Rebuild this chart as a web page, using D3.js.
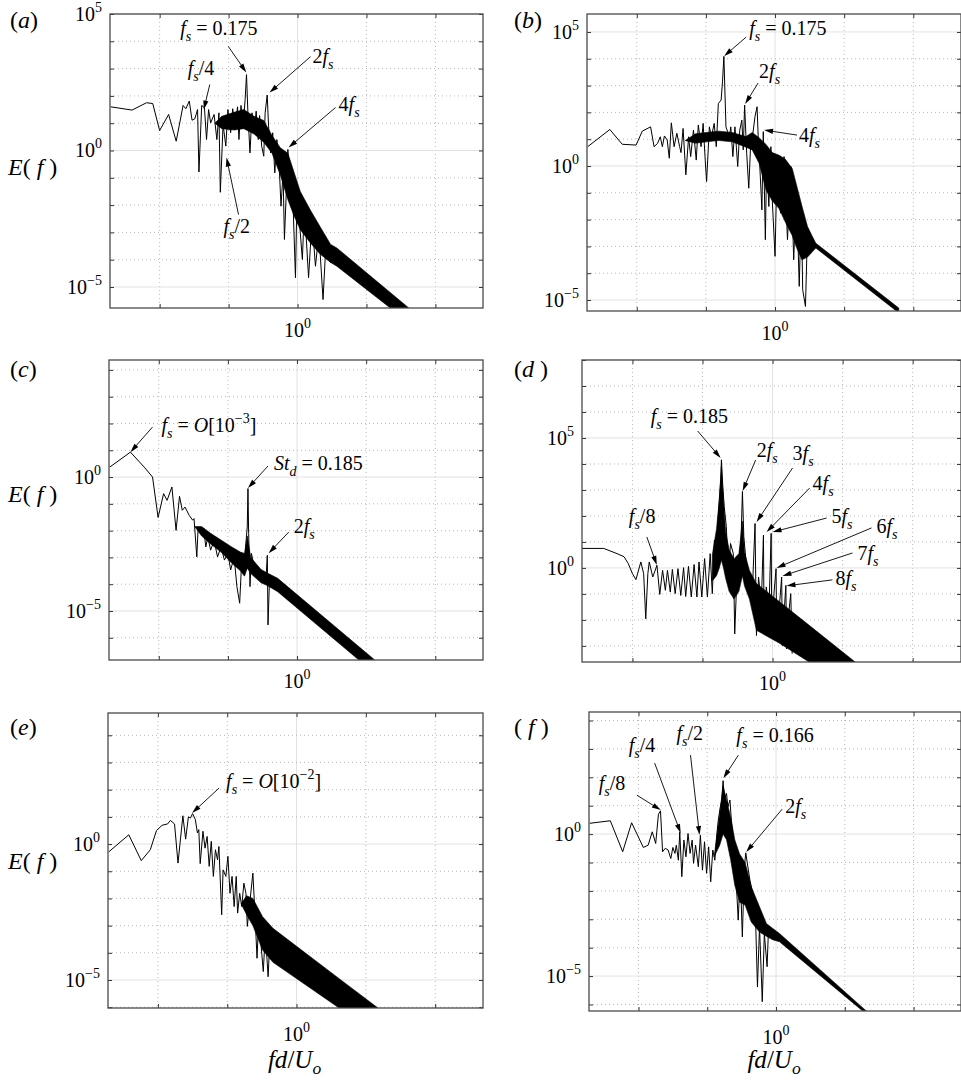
<!DOCTYPE html>
<html lang="en">
<head>
<meta charset="UTF-8">
<title>Energy spectra E(f)</title>
<script src="https://d3js.org/d3.v7.min.js"></script>
<style>
  body { margin: 0; background: #fff; }
  svg { display: block; }
  text { white-space: pre; font-family: "Liberation Serif", "Times New Roman", "DejaVu Serif", serif; fill: #000; }
  .grid-major { stroke: #e2e2e2; stroke-width: 1; }
  .grid-minor { stroke: #b8b8b8; stroke-width: 1; stroke-dasharray: 1,3; }
  .frame { fill: none; stroke: #4a4a4a; stroke-width: 1.3; }
  .trace { fill: none; stroke: #000; stroke-width: 1; stroke-linejoin: round; }
  .band { fill: #000; stroke: #000; stroke-width: 0.6; }
  .arrow { stroke: #000; stroke-width: 0.9; }
  .ticks line { stroke: #333; }
  .ticks path { display: none; }
</style>
</head>
<body>
<script>
// all values as [log10(fd/Uo), log10 E(f)]
const xExp = [-2.72, 2.69];

const specA = [[-2.71,1.60],[-2.40,1.48],[-2.19,1.75],[-2.10,1.72],[-2.00,0.73],[-1.87,1.32],[-1.76,0.34],[-1.66,1.65],[-1.62,1.53],[-1.57,1.81],[-1.53,1.11],[-1.49,1.16],[-1.45,1.50],[-1.43,-0.79],[-1.39,1.65],[-1.35,1.56],[-1.32,0.40],[-1.29,1.50],[-1.26,1.01],[-1.21,1.32],[-1.17,0.40],[-1.14,1.38],[-1.12,-1.53],[-1.08,0.95],[-1.04,0.16],[-1.01,1.50],[-0.97,0.65],[-0.94,1.53],[-0.91,0.77],[-0.87,1.60],[-0.85,0.40],[-0.82,1.65],[-0.79,0.89],[-0.76,1.87],[-0.74,2.78],[-0.72,1.38],[-0.69,-0.09],[-0.66,1.38],[-0.63,0.65],[-0.60,1.44],[-0.57,0.40],[-0.55,1.28],[-0.52,0.16],[-0.49,-0.21],[-0.47,1.38],[-0.44,2.03],[-0.42,0.89],[-0.39,-0.09],[-0.36,0.65],[-0.33,-0.82],[-0.30,0.40],[-0.27,-0.33],[-0.24,-2.04],[-0.21,-0.82],[-0.19,-3.26],[-0.16,-1.31],[-0.14,0.04],[-0.11,-1.79],[-0.08,-0.82],[-0.03,-4.66],[-0.005,-1.31],[0.04,-3.02],[0.07,-3.99],[0.10,-2.04],[0.16,-4.66],[0.21,-2.53],[0.26,-4.24],[0.31,-3.02],[0.37,-5.46],[0.41,-3.50],[0.48,-4.11],[0.55,-3.75]];
// dense part of the spectrum: [log10 f, lower, upper]
const bandA = [[-1.20,1.00,1.00],[-1.10,0.80,1.25],[-0.92,0.75,1.40],[-0.78,0.80,1.50],[-0.63,0.60,1.25],[-0.49,0.30,1.10],[-0.37,-0.10,0.55],[-0.25,-0.90,0.10],[-0.14,-1.80,-0.10],[-0.05,-2.40,-0.80],[0.04,-2.90,-1.50],[0.19,-3.40,-2.20],[0.33,-3.80,-2.80],[0.48,-4.10,-3.44],[0.57,-4.24,-3.57],[1.69,-6.45,-5.93]];

const specB = [[-2.71,0.72],[-2.39,1.36],[-2.21,0.81],[-2.01,0.78],[-1.92,1.30],[-1.80,1.46],[-1.75,0.72],[-1.70,0.84],[-1.66,1.09],[-1.63,0.72],[-1.60,1.12],[-1.56,0.97],[-1.53,0.29],[-1.50,1.61],[-1.46,0.72],[-1.42,1.22],[-1.38,0.72],[-1.36,0.50],[-1.33,1.40],[-1.29,-0.33],[-1.25,1.09],[-1.22,0.35],[-1.18,1.34],[-1.14,0.22],[-1.11,1.53],[-1.07,0.72],[-1.04,1.59],[-1.01,0.22],[-0.99,-0.58],[-0.95,1.46],[-0.92,1.09],[-0.88,1.59],[-0.85,0.72],[-0.82,2.33],[-0.78,2.46],[-0.76,3.14],[-0.74,4.09],[-0.71,1.46],[-0.66,1.09],[-0.64,1.46],[-0.61,0.35],[-0.58,1.46],[-0.54,-0.02],[-0.51,1.34],[-0.48,1.71],[-0.46,0.60],[-0.44,2.27],[-0.41,0.47],[-0.38,-0.83],[-0.35,0.97],[-0.32,1.22],[-0.29,1.84],[-0.26,2.21],[-0.24,0.84],[-0.22,-0.02],[-0.19,-1.64],[-0.17,1.28],[-0.14,-2.75],[-0.12,0.35],[-0.09,-1.51],[-0.06,0.72],[-0.04,-1.27],[0.00,-3.37],[0.03,0.22],[0.08,-1.76],[0.13,0.35],[0.18,-2.75],[0.23,-0.02],[0.27,-3.50],[0.31,-0.77],[0.35,-4.49],[0.38,-1.51],[0.40,-4.62],[0.44,-5.24],[0.47,-2.38],[0.51,-3.25],[0.59,-2.98]];
const bandB = [[-1.30,0.95,0.95],[-1.15,0.85,1.20],[-1.00,0.90,1.25],[-0.81,0.95,1.30],[-0.62,0.90,1.25],[-0.42,0.70,1.10],[-0.33,0.60,1.25],[-0.23,0.10,1.05],[-0.13,-0.90,0.80],[-0.04,-1.30,0.50],[0.06,-1.60,0.40],[0.15,-2.10,0.25],[0.25,-2.60,-0.10],[0.32,-3.10,-0.80],[0.39,-3.50,-1.50],[0.47,-3.40,-2.26],[0.54,-3.20,-2.63],[0.59,-3.06,-2.88],[1.79,-5.48,-5.30]];

const specC = [[-2.71,0.37],[-2.41,0.93],[-2.21,0.37],[-2.09,0.00],[-2.01,-1.51],[-1.93,-0.62],[-1.88,-0.87],[-1.81,-0.37],[-1.75,-1.99],[-1.70,-0.72],[-1.66,-1.24],[-1.62,-1.12],[-1.56,-1.43],[-1.51,-1.61],[-1.49,-1.55],[-1.45,-2.98],[-1.43,-1.86],[-1.39,-2.11],[-1.35,-1.92],[-1.32,-2.61],[-1.29,-2.23],[-1.25,-2.73],[-1.20,-2.36],[-1.15,-2.98],[-1.10,-2.61],[-1.05,-3.10],[-1.00,-2.85],[-0.96,-3.47],[-0.91,-2.98],[-0.87,-4.09],[-0.83,-4.71],[-0.80,-3.10],[-0.76,-3.35],[-0.74,-2.48],[-0.72,-1.86],[-0.71,-0.43],[-0.70,-2.11],[-0.68,-4.09],[-0.66,-2.85],[-0.62,-3.35],[-0.57,-3.60],[-0.50,-3.72],[-0.45,-3.85],[-0.43,-2.92],[-0.42,-5.52],[-0.40,-3.97]];
const bandC = [[-1.48,-1.85,-1.85],[-1.38,-2.20,-1.85],[-1.25,-2.50,-2.10],[-1.10,-2.80,-2.35],[-0.95,-3.20,-2.60],[-0.82,-3.50,-2.80],[-0.76,-3.70,-2.85],[-0.72,-3.40,-2.20],[-0.67,-3.60,-3.00],[-0.52,-3.95,-3.45],[-0.43,-4.05,-3.58],[-0.28,-4.28,-3.78],[1.12,-7.32,-6.82]];

const specD = [[-2.72,0.75],[-2.41,0.75],[-2.22,0.55],[-2.12,0.43],[-2.06,0.17],[-2.00,-0.22],[-1.95,-0.45],[-1.90,0.04],[-1.88,0.23],[-1.84,-0.22],[-1.81,-1.96],[-1.78,-0.22],[-1.76,0.23],[-1.71,-0.35],[-1.65,0.10],[-1.61,-1.02],[-1.57,-0.09],[-1.53,-0.86],[-1.50,-0.09],[-1.46,-0.93],[-1.43,-0.06],[-1.39,-0.99],[-1.35,-0.03],[-1.31,-1.06],[-1.27,0.01],[-1.24,-1.10],[-1.20,0.06],[-1.16,-1.12],[-1.12,0.13],[-1.08,-1.12],[-1.05,0.23],[-1.01,-1.12],[-0.97,0.36],[-0.93,-1.12],[-0.89,0.55],[-0.86,-0.99],[-0.83,1.07],[-0.80,-0.22],[-0.78,1.84],[-0.76,2.62],[-0.74,3.39],[-0.73,4.16],[-0.71,3.13],[-0.69,2.36],[-0.66,1.59],[-0.63,-0.22],[-0.60,0.94],[-0.56,0.55],[-0.54,-2.54],[-0.50,0.30],[-0.47,0.55],[-0.45,1.07],[-0.43,2.94],[-0.41,1.20],[-0.38,0.30],[-0.34,-0.22],[-0.30,-1.12],[-0.28,-0.35],[-0.25,1.71],[-0.23,-2.60],[-0.20,-0.35],[-0.16,-1.38],[-0.13,1.26],[-0.12,-2.54],[-0.09,-0.73],[-0.05,-1.51],[-0.02,1.33],[-0.01,-2.54],[0.02,-0.99],[0.05,-0.03],[0.06,-2.80],[0.10,-1.38],[0.13,-0.35],[0.14,-2.99],[0.17,-1.51],[0.19,-0.67],[0.20,-3.12],[0.23,-1.77],[0.26,-0.99],[0.28,-3.30]];
const bandD = [[-0.86,-0.50,0.50],[-0.80,-0.30,1.50],[-0.76,0.00,2.60],[-0.73,0.30,3.90],[-0.70,0.00,2.60],[-0.67,-0.40,1.40],[-0.62,-0.90,0.70],[-0.55,-1.20,0.35],[-0.48,-0.90,0.55],[-0.43,-0.30,1.80],[-0.40,-0.70,0.60],[-0.33,-1.20,-0.10],[-0.23,-2.40,-0.60],[0.10,-2.90,-1.30],[0.51,-3.60,-2.18],[1.17,-4.73,-3.60],[1.53,-5.25,-4.34]];

const specE = [[-2.71,-0.29],[-2.42,0.34],[-2.24,-0.61],[-2.11,-0.21],[-2.02,0.50],[-1.94,0.69],[-1.86,0.74],[-1.82,0.87],[-1.76,0.74],[-1.71,-0.70],[-1.64,1.04],[-1.60,0.18],[-1.56,1.00],[-1.53,0.96],[-1.50,1.12],[-1.46,0.90],[-1.43,0.41],[-1.41,0.53],[-1.39,-0.72],[-1.35,0.47],[-1.32,-0.15],[-1.29,0.28],[-1.26,-0.82],[-1.23,0.10],[-1.20,-1.19],[-1.17,-0.21],[-1.14,-0.58],[-1.12,-0.09],[-1.08,-2.60],[-1.06,-0.95],[-1.02,-1.19],[-0.99,-0.45],[-0.96,-1.81],[-0.93,-1.19],[-0.90,-2.30],[-0.87,-1.19],[-0.85,-2.54],[-0.82,-1.81],[-0.79,-2.30],[-0.76,-1.44],[-0.73,-1.81],[-0.71,-3.03],[-0.67,-2.05],[-0.63,-1.07],[-0.60,-2.54],[-0.57,-4.20],[-0.55,-3.03],[-0.51,-3.77],[-0.48,-4.69],[-0.45,-3.28],[-0.41,-4.88],[-0.38,-3.28],[-0.34,-4.26],[-0.31,-4.02]];
const bandE = [[-0.80,-2.20,-2.20],[-0.72,-2.60,-1.90],[-0.63,-3.00,-2.00],[-0.49,-3.90,-2.67],[-0.34,-4.35,-3.10],[0.62,-6.04,-4.96],[1.18,-7.03,-6.04],[1.73,-8.07,-7.09]];

const specF = [[-2.71,0.38],[-2.41,0.47],[-2.23,-0.62],[-2.10,0.40],[-1.93,-0.47],[-1.86,-0.39],[-1.80,0.08],[-1.75,-0.33],[-1.71,0.70],[-1.68,0.82],[-1.65,-0.62],[-1.61,-0.50],[-1.57,-0.56],[-1.53,-0.86],[-1.50,-0.47],[-1.47,-0.68],[-1.45,-0.39],[-1.42,-0.92],[-1.40,0.08],[-1.37,-1.50],[-1.34,-0.21],[-1.31,-0.80],[-1.28,0.02],[-1.25,-0.68],[-1.22,-0.21],[-1.20,-1.03],[-1.17,-0.39],[-1.13,-1.15],[-1.10,-0.04],[-1.07,-1.27],[-1.04,-0.27],[-1.01,-1.38],[-0.98,-0.45],[-0.95,-1.68],[-0.92,-0.56],[-0.89,-0.92],[-0.86,0.02],[-0.84,0.49],[-0.81,0.96],[-0.79,1.20],[-0.77,1.88],[-0.75,1.20],[-0.72,1.43],[-0.70,0.96],[-0.67,1.20],[-0.65,0.49],[-0.63,0.02],[-0.60,-0.45],[-0.58,-1.62],[-0.55,-3.03],[-0.52,-1.38],[-0.49,-3.62],[-0.46,-1.15],[-0.44,-0.66],[-0.41,-1.15],[-0.38,-1.62],[-0.34,-2.09],[-0.30,-2.79],[-0.27,-5.38],[-0.24,-3.26],[-0.20,-5.90],[-0.17,-3.50],[-0.13,-4.67],[-0.11,-3.38],[-0.05,-3.62],[0.02,-3.62]];
const bandF = [[-0.90,-0.80,-0.80],[-0.82,-0.40,0.70],[-0.77,0.00,1.70],[-0.72,-0.20,1.20],[-0.66,-0.90,0.60],[-0.60,-1.80,-0.20],[-0.53,-2.40,-0.70],[-0.45,-2.50,-1.00],[-0.36,-3.10,-1.85],[-0.24,-3.45,-2.56],[-0.14,-3.60,-3.15],[-0.05,-3.72,-3.32],[0.05,-3.79,-3.50],[1.30,-6.31,-6.20],[1.49,-6.73,-6.61]];

// labels: rich-text pieces, 'i' italic, 'sub' subscript, 'sup' superscript
const FS = [['f','i'],['s','i sub']];
const notesA = [
  {text:[...FS,[' = 0.175','']], at:[-0.743,2.86], tail:[-18,-26], pos:[-66,-37]},
  {text:[['2',''],...FS], at:[-0.406,2.12], tail:[41,-36], pos:[43,-30]},
  {text:[...FS,['/4','']], at:[-1.36,1.50], tail:[6,-25], pos:[-16,-35]},
  {text:[['4',''],...FS], at:[-0.13,0.11], tail:[47,-40], pos:[50,-36]},
  {text:[...FS,['/2','']], at:[-1.03,-0.26], tail:[12,57], pos:[-3,75]}
];
const notesB = [
  {text:[...FS,[' = 0.175','']], at:[-0.736,4.10], tail:[22,-19], pos:[25,-21]},
  {text:[['2',''],...FS], at:[-0.433,2.31], tail:[13,-21], pos:[14,-26]},
  {text:[['4',''],...FS], at:[-0.159,1.34], tail:[33,5], pos:[35,12]}
];
const notesC = [
  {text:[...FS,[' = ',''],['O','i'],['[10',''],['\u22123','sup'],[']','']], at:[-2.41,0.93], tail:[22,-25], pos:[31,-20]},
  {text:[['St','i'],['d','i sub'],[' = 0.185','']], at:[-0.71,-0.41], tail:[20,-22], pos:[26,-18]},
  {text:[['2',''],...FS], at:[-0.41,-2.84], tail:[20,-21], pos:[25,-20]}
];
const notesD = [
  {text:[...FS,[' = 0.185','']], at:[-0.741,4.23], tail:[-23,-27], pos:[-70,-35]},
  {text:[['2',''],...FS], at:[-0.427,2.96], tail:[13,-31], pos:[14,-34]},
  {text:[['3',''],...FS], at:[-0.228,1.77], tail:[36,-54], pos:[36,-62]},
  {text:[['4',''],...FS], at:[-0.085,1.38], tail:[43,-44], pos:[46,-42]},
  {text:[['5',''],...FS], at:[0.0,1.38], tail:[54,-14], pos:[59,-9]},
  {text:[['6',''],...FS], at:[0.057,0.0], tail:[95,-40], pos:[100,-35]},
  {text:[['7',''],...FS], at:[0.142,-0.31], tail:[70,-23], pos:[75,-16]},
  {text:[['8',''],...FS], at:[0.199,-0.69], tail:[46,-6], pos:[49,-1]},
  {text:[...FS,['/8','']], at:[-1.652,0.115], tail:[-10,-28], pos:[-28,-42]}
];
const notesE = [
  {text:[...FS,[' = ',''],['O','i'],['[10',''],['\u22122','sup'],[']','']], at:[-1.507,1.14], tail:[27,-25], pos:[34,-25]}
];
const notesF = [
  {text:[...FS,[' = 0.166','']], at:[-0.766,1.97], tail:[15,-23], pos:[13,-36]},
  {text:[...FS,['/2','']], at:[-1.113,-0.035], tail:[-9,-80], pos:[-23,-95]},
  {text:[...FS,['/4','']], at:[-1.387,0.035], tail:[-26,-70], pos:[-52,-81]},
  {text:[...FS,['/8','']], at:[-1.676,0.845], tail:[-24,-15], pos:[-62,-20]},
  {text:[['2',''],...FS], at:[-0.434,-0.634], tail:[36,-43], pos:[39,-39]}
];

const panels = [
  {id:'a', box:[110,14,373,294], yExp:[-5.77,5.00], spec:specA, band:bandA, notes:notesA, col:0, row:0},
  {id:'b', box:[587,14,374,297], yExp:[-5.41,5.67], spec:specB, band:bandB, notes:notesB, col:1, row:0},
  {id:'c', box:[109,360,374,300], yExp:[-6.83,4.37], spec:specC, band:bandC, notes:notesC, col:0, row:1},
  {id:'d', box:[582,360,379,302], yExp:[-3.62,8.00], spec:specD, band:bandD, notes:notesD, col:1, row:1},
  {id:'e', box:[108,713,375,295], yExp:[-6.03,4.82], spec:specE, band:bandE, notes:notesE, col:0, row:2},
  {id:'f', box:[589,712,372,299], yExp:[-6.23,4.30], spec:specF, band:bandF, notes:notesF, col:1, row:2}
];
const rowLetterY = [28, 377, 735];
const rowTickGap = [29, 28, 33];

const W = 961, H = 1084;
const svg = d3.select('body').append('svg').attr('width', W).attr('height', H);

function rich(sel, segs, size, subShift = 0.3) {
  let shift = 0;
  segs.forEach(([s, st]) => {
    const sub = st.includes('sub'), sup = st.includes('sup');
    const target = sub ? size * subShift : sup ? -size * 0.45 : 0;
    sel.append('tspan')
      .attr('dy', target - shift)
      .attr('font-size', (sub || sup) ? size * 0.7 : size)
      .attr('font-style', st.includes('i') ? 'italic' : 'normal')
      .text(s);
    shift = target;
  });
}

function expLabel(k) {
  return [['10',''],[k < 0 ? '\u2212' + (-k) : String(k), 'sup']];
}

panels.forEach(p => {
  const [left, top, w, h] = p.box;
  const x = d3.scaleLog().domain([10 ** xExp[0], 10 ** xExp[1]]).range([left, left + w]);
  const y = d3.scaleLog().domain([10 ** p.yExp[0], 10 ** p.yExp[1]]).range([top + h, top]);
  const g = svg.append('g');

  const xDec = d3.range(Math.ceil(xExp[0]), Math.floor(xExp[1]) + 1);
  const yDec = d3.range(Math.ceil(p.yExp[0]), Math.floor(p.yExp[1]) + 1);

  // grid
  g.selectAll('.gx').data(xDec).join('line')
    .attr('class', k => k === 0 ? 'grid-major' : 'grid-minor')
    .attr('x1', k => x(10 ** k)).attr('x2', k => x(10 ** k))
    .attr('y1', top).attr('y2', top + h);
  g.selectAll('.gy').data(yDec).join('line')
    .attr('class', k => k % 5 === 0 ? 'grid-major' : 'grid-minor')
    .attr('y1', k => y(10 ** k)).attr('y2', k => y(10 ** k))
    .attr('x1', left).attr('x2', left + w);

  // inward tick marks on all four sides
  const xv = xDec.map(k => 10 ** k), yv = yDec.map(k => 10 ** k);
  g.append('g').attr('class', 'ticks').attr('transform', `translate(0,${top + h})`)
    .call(d3.axisBottom(x).tickValues(xv).tickSizeInner(-4).tickSizeOuter(0).tickFormat(''));
  g.append('g').attr('class', 'ticks').attr('transform', `translate(0,${top})`)
    .call(d3.axisTop(x).tickValues(xv).tickSizeInner(-4).tickSizeOuter(0).tickFormat(''));
  g.append('g').attr('class', 'ticks').attr('transform', `translate(${left},0)`)
    .call(d3.axisLeft(y).tickValues(yv).tickSizeInner(-4).tickSizeOuter(0).tickFormat(''));
  g.append('g').attr('class', 'ticks').attr('transform', `translate(${left + w},0)`)
    .call(d3.axisRight(y).tickValues(yv).tickSizeInner(-4).tickSizeOuter(0).tickFormat(''));

  // data
  const clipId = 'clip-' + p.id;
  g.append('clipPath').attr('id', clipId).append('rect')
    .attr('x', left).attr('y', top).attr('width', w).attr('height', h);
  const plot = g.append('g').attr('clip-path', `url(#${clipId})`);
  plot.append('path').datum(p.band).attr('class', 'band')
    .attr('d', d3.area().x(d => x(10 ** d[0])).y0(d => y(10 ** d[1])).y1(d => y(10 ** d[2])));
  plot.append('path').datum(p.spec).attr('class', 'trace')
    .attr('d', d3.line().x(d => x(10 ** d[0])).y(d => y(10 ** d[1])));

  g.append('rect').attr('class', 'frame')
    .attr('x', left).attr('y', top).attr('width', w).attr('height', h);

  // tick labels
  g.selectAll('.yl').data(yDec.filter(k => k % 5 === 0)).join('text')
    .attr('x', left - 8).attr('y', k => y(10 ** k) + 7)
    .attr('text-anchor', 'end')
    .each(function (k) { rich(d3.select(this), expLabel(k), 20); });
  g.append('text')
    .attr('x', x(1)).attr('y', top + h + rowTickGap[p.row])
    .attr('text-anchor', 'middle')
    .call(t => rich(t, expLabel(0), 20));

  // annotations
  p.notes.forEach(n => {
    const hx = x(10 ** n.at[0]), hy = y(10 ** n.at[1]);
    const tx = hx + n.tail[0], ty = hy + n.tail[1];
    const len = Math.hypot(hx - tx, hy - ty);
    const ux = (hx - tx) / len, uy = (hy - ty) / len;
    const L = 9, Wd = 2.6;
    g.append('line').attr('class', 'arrow')
      .attr('x1', tx).attr('y1', ty)
      .attr('x2', hx - ux * L * 0.7).attr('y2', hy - uy * L * 0.7);
    g.append('path')
      .attr('d', `M${hx},${hy}L${hx - ux * L - uy * Wd},${hy - uy * L + ux * Wd}L${hx - ux * L + uy * Wd},${hy - uy * L - ux * Wd}Z`)
      .attr('fill', '#000');
    g.append('text').attr('x', hx + n.pos[0]).attr('y', hy + n.pos[1])
      .call(t => rich(t, n.text, 20));
  });

  // panel letter
  svg.append('text').attr('x', p.col === 0 ? 10 : 514).attr('y', rowLetterY[p.row])
    .call(t => rich(t, [[p.id === 'f' ? '( ' : '(', ''], [p.id, 'i'], [p.id === 'f' || p.id === 'd' ? ' )' : ')', '']], 24));

  // y title on the left column
  if (p.col === 0) {
    svg.append('text').attr('x', 8).attr('y', y(1) + 25)
      .call(t => rich(t, [['E','i'],['( ',''],['f','i'],[' )','']], 24));
  }
  // x title on the bottom row
  if (p.row === 2) {
    svg.append('text').attr('x', x(1) - 2).attr('y', 1068).attr('text-anchor', 'middle')
      .call(t => rich(t, [['fd','i'],['/',''],['U','i'],['o','i sub']], 25, 0.22));
  }
});
</script>
</body>
</html>
